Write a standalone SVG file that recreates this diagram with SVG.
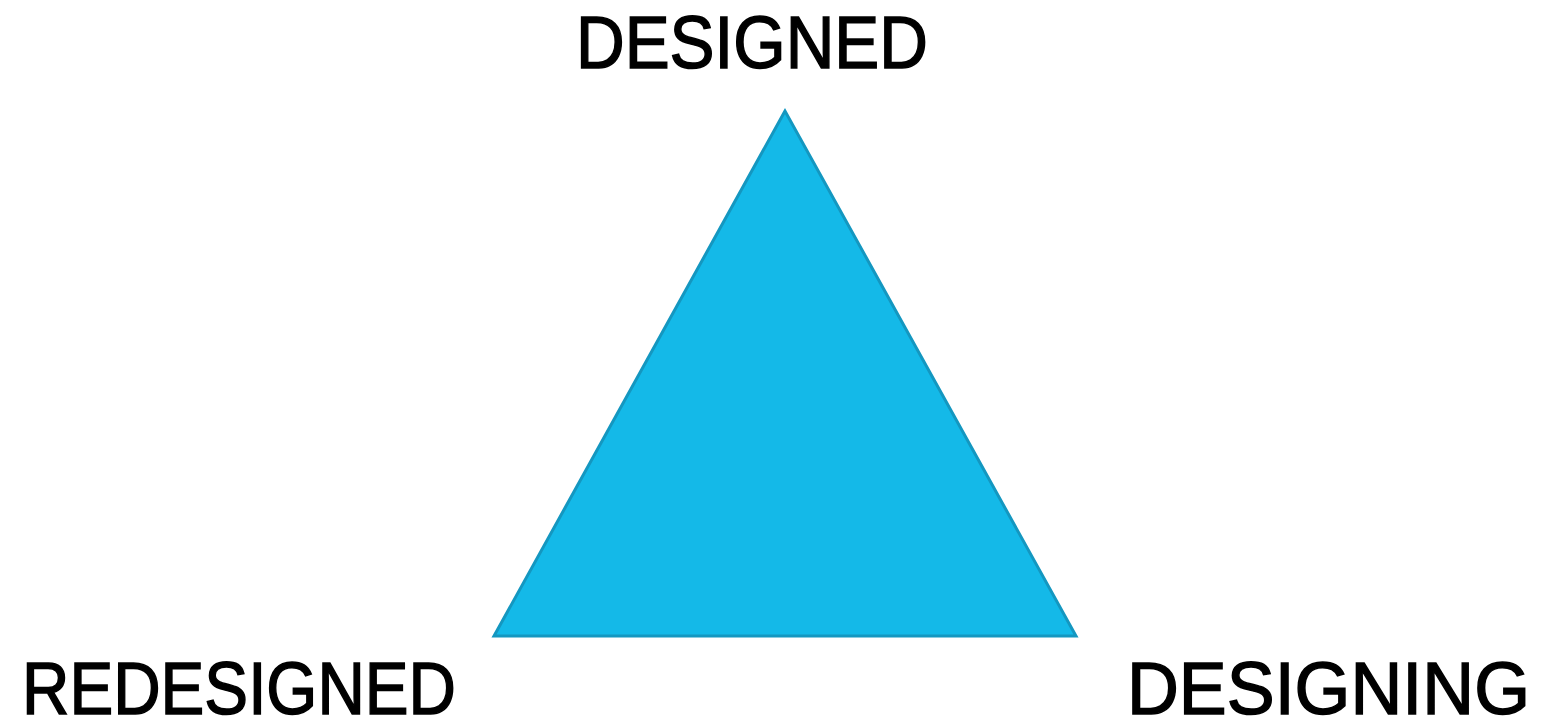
<svg xmlns="http://www.w3.org/2000/svg" width="1545" height="721" viewBox="0 0 1545 721">
<style>
.lbl{font-family:"Liberation Sans","Open Sans",sans-serif;font-size:75px;fill:#000;stroke:#000;stroke-width:1.5;}
.tri{fill:#14B9E8;stroke:#1497C0;stroke-width:3;stroke-linejoin:miter;}
</style>
<rect width="1545" height="721" fill="#fff"/>
<g id="triangle"><polygon class="tri" points="785,111 494,636 1076,636"/></g>
<g id="connectors"></g>
<g id="designed"><text class="lbl" x="576" y="68" textLength="352" lengthAdjust="spacingAndGlyphs">DESIGNED</text></g>
<g id="redesigned"><text class="lbl" x="22" y="714" textLength="434" lengthAdjust="spacingAndGlyphs">REDESIGNED</text></g>
<g id="designing"><text class="lbl" x="1127" y="714" textLength="403" lengthAdjust="spacingAndGlyphs">DESIGNING</text></g>
</svg>
